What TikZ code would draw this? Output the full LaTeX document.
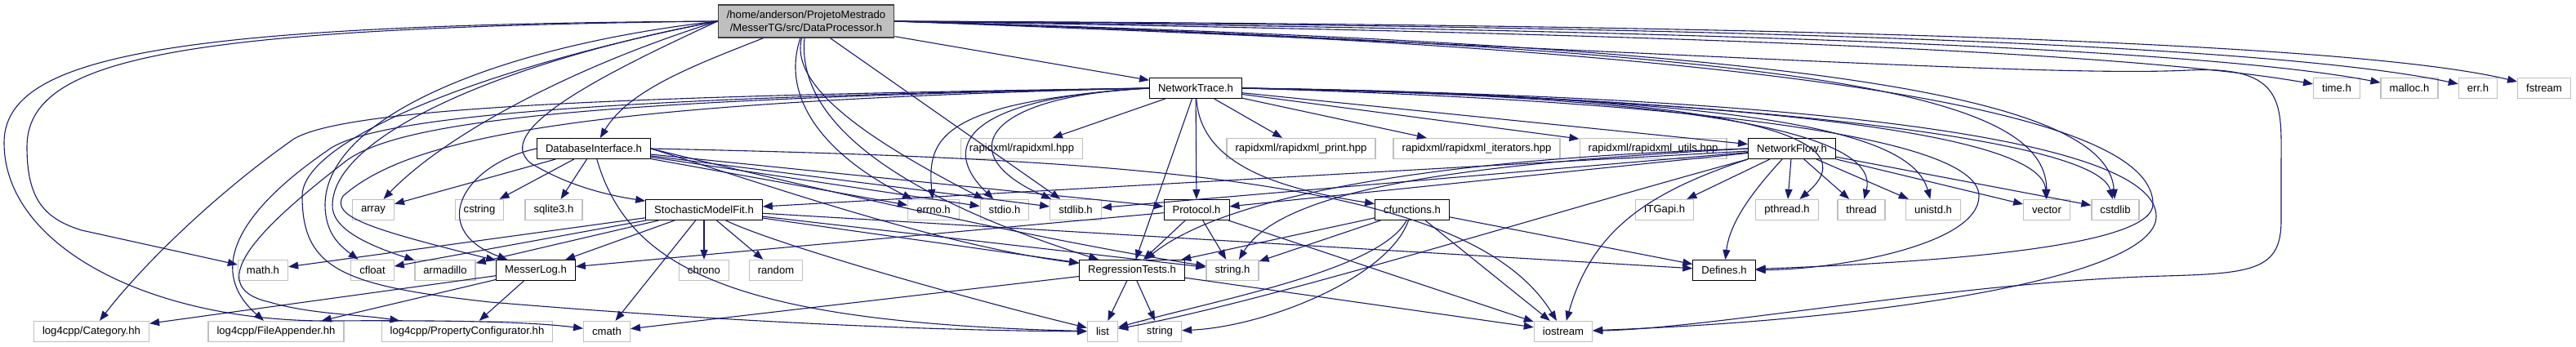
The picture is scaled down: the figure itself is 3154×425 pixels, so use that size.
\documentclass[tikz,border=0pt]{standalone}
\usepackage{fontspec}
\usepackage{tikz}
\usetikzlibrary{arrows.meta}
\newfontfamily\dotfont{Liberation Sans}
\definecolor{edgeblue}{RGB}{25,25,112}
\definecolor{boxgray}{RGB}{191,191,191}
\definecolor{rootedge}{RGB}{64,64,64}

\begin{document}
\begin{tikzpicture}[x=1pt,y=-1pt,
  file/.style={draw=black,fill=white,line width=1pt,inner xsep=10.5pt,inner ysep=2pt,
    minimum height=25pt,font=\dotfont\fontsize{13.1}{15.5}\selectfont},
  sysfile/.style={file,draw=boxgray,line width=1.3pt},
  rootfile/.style={file,fill=boxgray,draw=rootedge,line width=1.2pt,align=center,minimum height=40pt},
  dep/.style={draw=edgeblue,line width=1.1pt,-{Triangle[length=12pt,width=9pt]}}]
  \useasboundingbox (0,0) rectangle (3154,425);

  % row 0 and 1
  \node[rootfile] (dataproc) at (987,26) {/home/anderson/ProjetoMestrado\\/MesserTG/src/DataProcessor.h};
  \node[file] (nettrace) at (1464,108) {NetworkTrace.h};
  \node[sysfile] (timeh) at (2861,108) {time.h};
  \node[sysfile] (malloch) at (2950,108) {malloc.h};
  \node[sysfile] (errh) at (3034,108) {err.h};
  \node[sysfile] (fstream) at (3115,108) {fstream};

  % row 2
  \node[file] (dbiface) at (727,182) {DatabaseInterface.h};
  \node[sysfile] (rxml) at (1251,182) {rapidxml/rapidxml.hpp};
  \node[sysfile] (rxmlprint) at (1593,182) {rapidxml/rapidxml\_print.hpp};
  \node[sysfile] (rxmliter) at (1808,182) {rapidxml/rapidxml\_iterators.hpp};
  \node[sysfile] (rxmlutils) at (2024,182) {rapidxml/rapidxml\_utils.hpp};
  \node[file] (netflow) at (2194,182) {NetworkFlow.h};

  % row 3
  \node[sysfile] (arrayh) at (457,257) {array};
  \node[sysfile] (cstring) at (587,257) {cstring};
  \node[sysfile] (sqlite) at (678,257) {sqlite3.h};
  \node[file] (stochfit) at (862,257) {StochasticModelFit.h};
  \node[sysfile] (errnoh) at (1143,257) {errno.h};
  \node[sysfile] (stdioh) at (1230,257) {stdio.h};
  \node[sysfile] (stdlibh) at (1317,257) {stdlib.h};
  \node[file] (protocol) at (1465,257) {Protocol.h};
  \node[file] (cfunc) at (1729,257) {cfunctions.h};
  \node[sysfile] (itgapi) at (2038,257) {ITGapi.h};
  \node[sysfile] (pthreadh) at (2188,257) {pthread.h};
  \node[sysfile] (threadh) at (2279,257) {thread};
  \node[sysfile] (unistdh) at (2367,257) {unistd.h};
  \node[sysfile] (vectorh) at (2506,257) {vector};
  \node[sysfile] (cstdlib) at (2590,257) {cstdlib};

  % row 4
  \node[sysfile] (mathh) at (322,331) {math.h};
  \node[sysfile] (cfloat) at (456,331) {cfloat};
  \node[sysfile] (armadillo) at (545,331) {armadillo};
  \node[file] (messerlog) at (656,331) {MesserLog.h};
  \node[sysfile] (chrono) at (862,331) {chrono};
  \node[sysfile] (random) at (950,331) {random};
  \node[file] (regtests) at (1386,331) {RegressionTests.h};
  \node[sysfile] (stringh) at (1509,331) {string.h};
  \node[file] (defines) at (2111,331) {Defines.h};

  % row 5
  \node[sysfile] (lcategory) at (112,406) {log4cpp/Category.hh};
  \node[sysfile] (lfileapp) at (338,406) {log4cpp/FileAppender.hh};
  \node[sysfile] (lpropconf) at (572,406) {log4cpp/PropertyConfigurator.hh};
  \node[sysfile] (cmath) at (743,406) {cmath};
  \node[sysfile] (listh) at (1350,406) {list};
  \node[sysfile] (stringcpp) at (1420,406) {string};
  \node[sysfile] (iostream) at (1914,406) {iostream};

  % straight includes
  \foreach \a/\b in {dataproc/nettrace, dataproc/stdlibh,
      nettrace/rxml, nettrace/rxmlprint, nettrace/rxmliter, nettrace/rxmlutils,
      nettrace/netflow, nettrace/protocol, nettrace/regtests,
      dbiface/arrayh, dbiface/cstring, dbiface/sqlite, dbiface/errnoh, dbiface/stdioh,
      dbiface/stdlibh, dbiface/protocol,
      stochfit/mathh, stochfit/cfloat, stochfit/armadillo, stochfit/messerlog,
      stochfit/chrono, stochfit/random, stochfit/cmath, stochfit/regtests,
      stochfit/stringh, stochfit/defines,
      netflow/stochfit, netflow/stdlibh, netflow/protocol, netflow/itgapi,
      netflow/pthreadh, netflow/threadh, netflow/unistdh, netflow/vectorh, netflow/cstdlib,
      protocol/messerlog, protocol/regtests, protocol/stringh, protocol/iostream,
      cfunc/regtests, cfunc/stringh, cfunc/iostream, cfunc/defines,
      regtests/listh, regtests/stringcpp, regtests/iostream, regtests/cmath,
      messerlog/lcategory, messerlog/lfileapp, messerlog/lpropconf}
    \draw[dep] (\a) -- (\b);

  % DataProcessor.h, left side
  \draw[dep] (dataproc.west) .. controls (200,30) and (5,70) .. (5,175)
    .. controls (5,300) and (180,393) .. (400,393) .. controls (550,392) and (650,394) .. (cmath);
  \draw[dep] (dataproc.west) .. controls (220,34) and (33,70) .. (33,180)
    .. controls (33,245) and (55,268) .. (100,282) -- (mathh);
  \draw[dep] (dataproc.west) .. controls (620,55) and (400,140) .. (398,250)
    .. controls (398,285) and (415,300) .. (cfloat);
  \draw[dep] (dataproc.west) .. controls (640,70) and (410,160) .. (407,250)
    .. controls (405,280) and (450,300) .. (armadillo);
  \draw[dep] (dataproc.west) .. controls (600,80) and (370,170) .. (370,240)
    .. controls (370,330) and (420,350) .. (600,370) .. controls (900,395) and (1150,405) .. (listh);
  \draw[dep] (dataproc.west) .. controls (690,85) and (540,170) .. (arrayh);
  \draw[dep] (dataproc.west) .. controls (740,90) and (600,160) .. (650,200)
    .. controls (700,230) and (750,240) .. (stochfit);
  \draw[dep] (dataproc) .. controls (850,80) and (770,110) .. (dbiface);
  % DataProcessor.h, below
  \draw[dep] (dataproc) .. controls (955,120) and (1010,190) .. (errnoh);
  \draw[dep] (dataproc) .. controls (965,110) and (1080,180) .. (stdioh);
  \draw[dep] (dataproc) .. controls (975,150) and (1100,240) .. (regtests);
  % DataProcessor.h, right side
  \draw[dep] (dataproc.east) .. controls (2000,40) and (2600,62) .. (timeh);
  \draw[dep] (dataproc.east) .. controls (2100,36) and (2700,60) .. (malloch);
  \draw[dep] (dataproc.east) .. controls (2200,32) and (2800,58) .. (errh);
  \draw[dep] (dataproc.east) .. controls (2300,30) and (2900,56) .. (fstream);
  \draw[dep] (dataproc.east) .. controls (2200,60) and (2505,110) .. (vectorh);
  \draw[dep] (dataproc.east) .. controls (2200,55) and (2580,115) .. (cstdlib);
  \draw[dep] (dataproc.east) .. controls (2300,62) and (2636,150) .. (2636,250)
    .. controls (2636,300) and (2400,320) .. (defines);
  \draw[dep] (dataproc.east) .. controls (2000,60) and (2500,95) .. (2680,86)
    .. controls (2800,80) and (2793,130) .. (2793,200) -- (2793,270)
    .. controls (2793,330) and (2760,335) .. (2650,338) .. controls (2400,345) and (2100,402) .. (iostream);

  % NetworkTrace.h
  \draw[dep] (nettrace.west) .. controls (1150,125) and (1135,170) .. (errnoh);
  \draw[dep] (nettrace.west) .. controls (1180,120) and (1150,180) .. (stdioh);
  \draw[dep] (nettrace.west) .. controls (1200,118) and (1165,190) .. (stdlibh);
  \draw[dep] (nettrace.west) .. controls (700,118) and (420,135) .. (360,170)
    .. controls (260,240) and (170,330) .. (lcategory);
  \draw[dep] (nettrace.west) .. controls (700,120) and (450,145) .. (400,185)
    .. controls (320,240) and (240,320) .. (lfileapp);
  \draw[dep] (nettrace.west) .. controls (700,122) and (480,150) .. (420,200)
    .. controls (330,270) and (240,350) .. (330,370) .. controls (380,385) and (440,385) .. (lpropconf);
  \draw[dep] (nettrace.west) .. controls (700,125) and (500,170) .. (420,240)
    .. controls (405,265) and (450,280) .. (messerlog);
  \draw[dep] (nettrace) .. controls (1470,200) and (1560,230) .. (cfunc);
  \draw[dep] (nettrace.east) .. controls (2150,115) and (2290,170) .. (pthreadh);
  \draw[dep] (nettrace.east) .. controls (2150,118) and (2300,175) .. (threadh);
  \draw[dep] (nettrace.east) .. controls (2150,120) and (2340,160) .. (unistdh);
  \draw[dep] (nettrace.east) .. controls (2000,118) and (2500,150) .. (vectorh);
  \draw[dep] (nettrace.east) .. controls (2000,115) and (2565,160) .. (cstdlib);
  \draw[dep] (nettrace.east) .. controls (2100,125) and (2423,170) .. (2423,240)
    .. controls (2423,300) and (2250,330) .. (defines);
  \draw[dep] (nettrace.east) .. controls (2300,120) and (2640,180) .. (2640,265)
    .. controls (2640,340) and (2300,392) .. (iostream);

  % DatabaseInterface.h
  \draw[dep] (dbiface.west) .. controls (570,200) and (520,280) .. (messerlog);
  \draw[dep] (dbiface) .. controls (770,330) and (900,395) .. (listh);
  \draw[dep] (dbiface.east) .. controls (950,230) and (1150,300) .. (regtests);
  \draw[dep] (dbiface.east) .. controls (950,220) and (1250,290) .. (stringh);
  \draw[dep] (dbiface.east) .. controls (1400,195) and (1800,220) .. (iostream);

  % StochasticModelFit.h
  \draw[dep] (stochfit) .. controls (950,300) and (1200,370) .. (listh);

  % NetworkFlow.h
  \draw[dep] (netflow) .. controls (2150,230) and (2118,270) .. (defines);
  \draw[dep] (netflow.west) .. controls (1800,200) and (1570,230) .. (stringh);
  \draw[dep] (netflow.west) .. controls (1750,195) and (1500,240) .. (regtests);
  \draw[dep] (netflow.south west) .. controls (1900,260) and (1550,370) .. (listh);
  \draw[dep] (netflow.south west) .. controls (2020,235) and (1950,280) .. (iostream);

  % cfunctions.h
  \draw[dep] (cfunc) .. controls (1690,330) and (1500,365) .. (listh);
  \draw[dep] (cfunc) .. controls (1700,340) and (1550,400) .. (stringcpp);
\end{tikzpicture}
\end{document}
